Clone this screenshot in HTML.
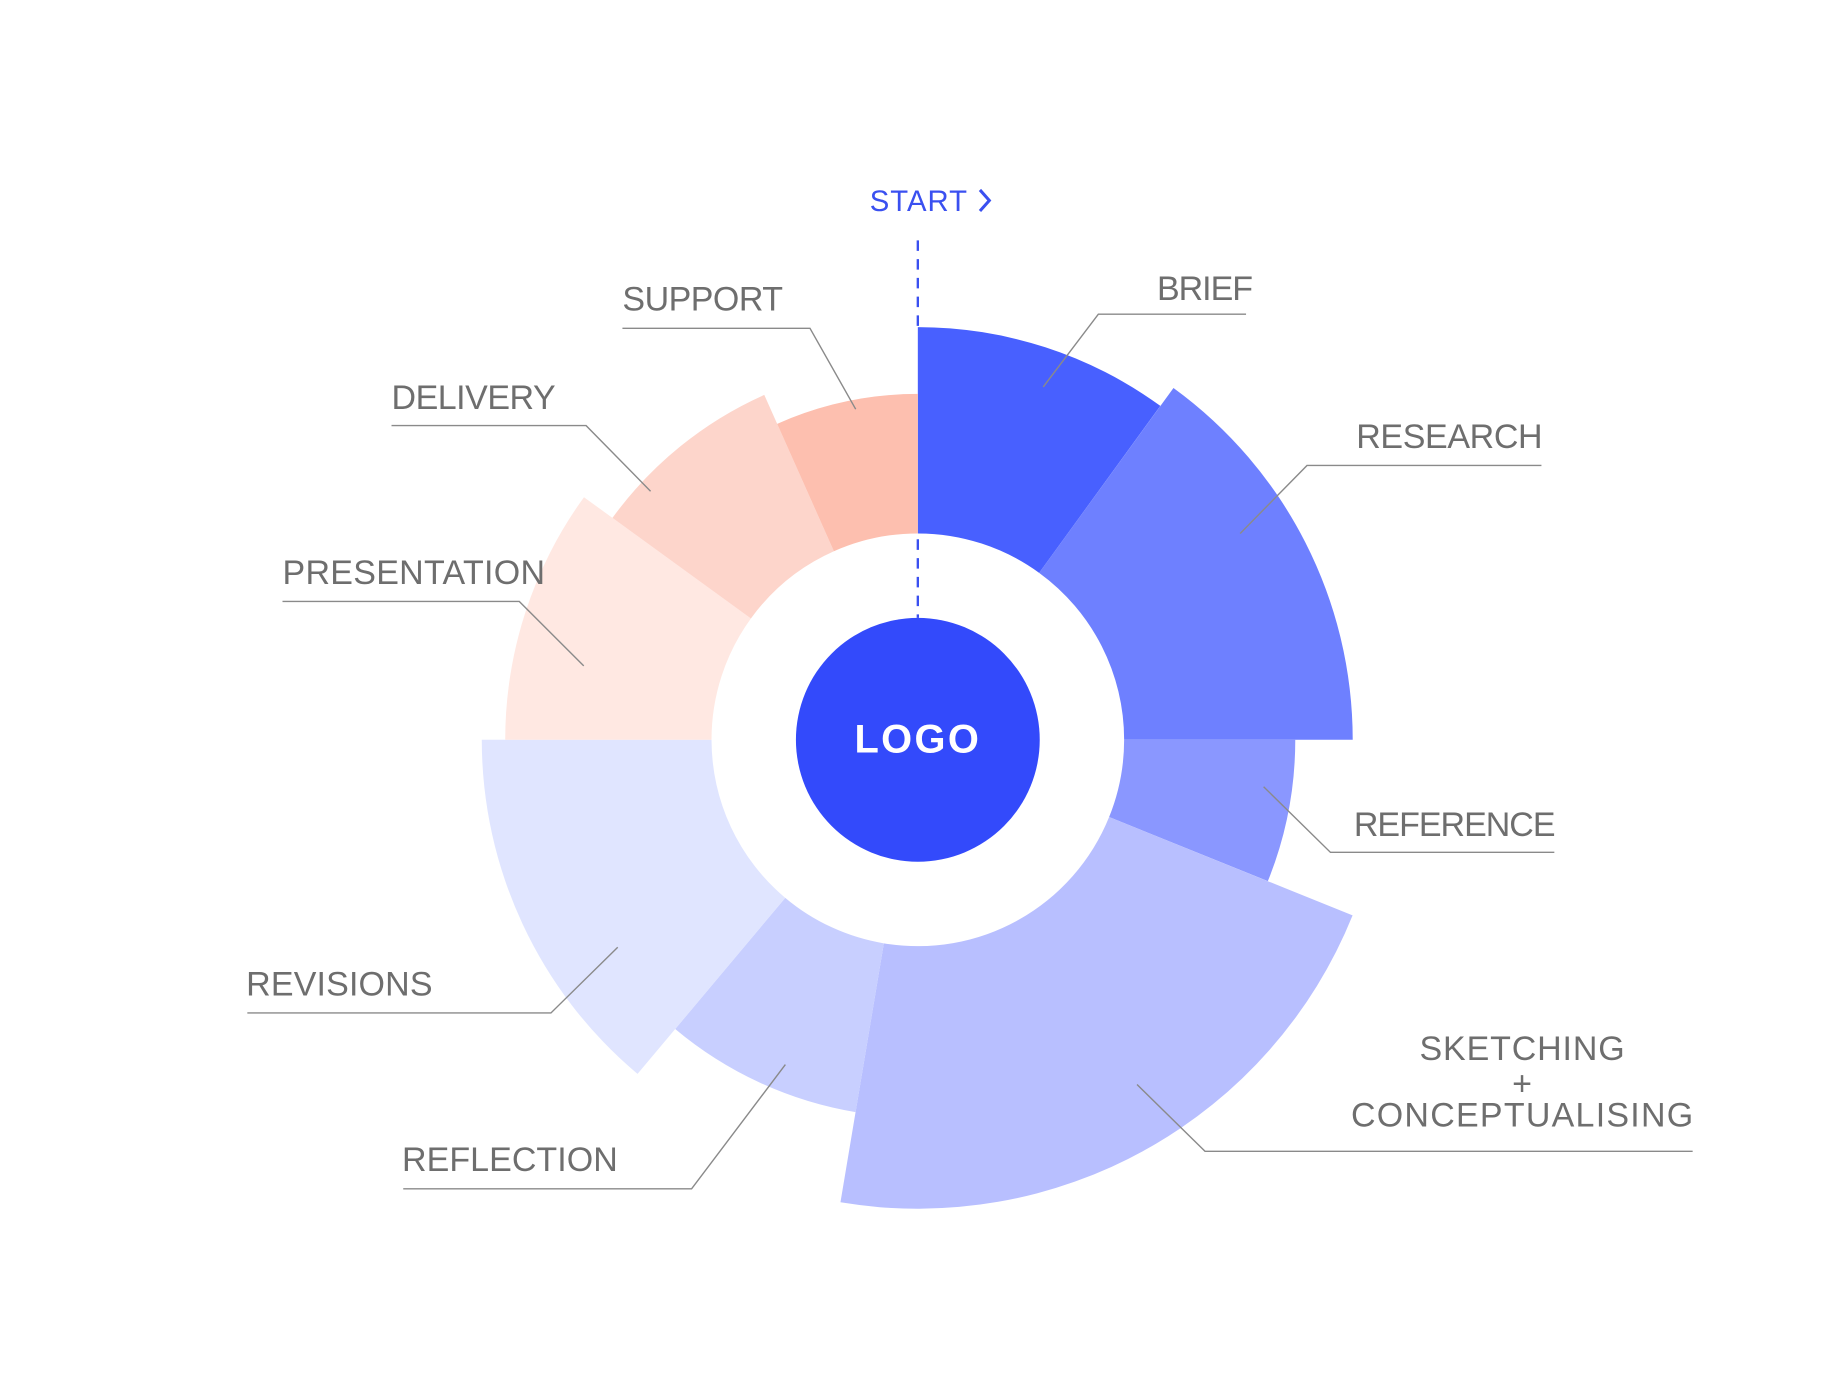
<!DOCTYPE html>
<html><head><meta charset="utf-8"><style>
html,body{margin:0;padding:0;background:#fff;}
svg{display:block;}
text{font-family:"Liberation Sans",sans-serif;}
.l{fill:#6e6e6e;font-size:29px;letter-spacing:1px;}
.k{stroke:#8a8a8a;stroke-width:1.2;fill:none;}
</style></head><body>
<svg width="1838" height="1394" viewBox="0 0 1568 1189" preserveAspectRatio="none" xmlns="http://www.w3.org/2000/svg">
<rect width="1568" height="1189" fill="#fff"/>
<path fill="#4860FF" d="M783,279 A352,352 0 0 1 989.9,346.2 L886.5,488.6 A176,176 0 0 0 783,455 Z"/>
<path fill="#6E80FF" d="M1001.1,330.9 A371,371 0 0 1 1154,631 L959,631 A176,176 0 0 0 886.5,488.6 Z"/>
<path fill="#8A97FF" d="M1105,631 A322,322 0 0 1 1081.6,751.6 L946.2,696.9 A176,176 0 0 0 959,631 Z"/>
<path fill="#B8BFFF" d="M1153.9,780.8 A400,400 0 0 1 717,1025.5 L754,804.6 A176,176 0 0 0 946.2,696.9 Z"/>
<path fill="#C8CFFF" d="M729.9,948.6 A322,322 0 0 1 576,877.7 L669.9,765.8 A176,176 0 0 0 754,804.6 Z"/>
<path fill="#E0E5FF" d="M543.9,916 A372,372 0 0 1 411,631 L607,631 A176,176 0 0 0 669.9,765.8 Z"/>
<path fill="#FFE8E2" d="M431,631 A352,352 0 0 1 498.2,424.1 L640.6,527.5 A176,176 0 0 0 607,631 Z"/>
<path fill="#FDD5CB" d="M522.5,441.7 A322,322 0 0 1 652,336.8 L711.4,470.2 A176,176 0 0 0 640.6,527.5 Z"/>
<path fill="#FDBFAF" d="M663,361.5 A295,295 0 0 1 783,336 L783,455 A176,176 0 0 0 711.4,470.2 Z"/>
<line x1="783" y1="205" x2="783" y2="279" stroke="#3a50f0" stroke-width="2" stroke-dasharray="9,7"/>
<line x1="783" y1="460" x2="783" y2="527" stroke="#3a50f0" stroke-width="2" stroke-dasharray="9,7"/>
<circle cx="783" cy="631" r="104" fill="#334AFB"/>
<text x="783" y="642" text-anchor="middle" fill="#fff" font-size="34" font-weight="bold" letter-spacing="2">LOGO</text>
<text x="742" y="180" fill="#3a50f0" font-size="25" letter-spacing="1" textLength="84">START</text>
<path d="M836,162 L844,171 L836,180" stroke="#3a50f0" stroke-width="2.6" fill="none"/>
<text class="l" x="987" y="256" textLength="83">BRIEF</text>
<path class="k" d="M1063,268 L937,268 L890,330"/>
<text class="l" x="1157" y="382" textLength="160">RESEARCH</text>
<path class="k" d="M1315,397 L1115,397 L1058,455"/>
<text class="l" x="1155" y="713" textLength="173">REFERENCE</text>
<path class="k" d="M1326,727 L1135,727 L1078,671"/>
<text class="l" x="1299" y="904" text-anchor="middle" textLength="176">SKETCHING</text>
<text class="l" x="1299" y="934" text-anchor="middle">+</text>
<text class="l" x="1299" y="961" text-anchor="middle" textLength="293">CONCEPTUALISING</text>
<path class="k" d="M1444,982 L1028,982 L970,925"/>
<text class="l" x="343" y="999" textLength="185">REFLECTION</text>
<path class="k" d="M344,1014 L590,1014 L670,908"/>
<text class="l" x="210" y="849" textLength="160">REVISIONS</text>
<path class="k" d="M211,864 L470,864 L527,808"/>
<text class="l" x="241" y="498" textLength="225">PRESENTATION</text>
<path class="k" d="M241,513 L443,513 L498,568"/>
<text class="l" x="334" y="349" textLength="141">DELIVERY</text>
<path class="k" d="M334,363 L500,363 L555,419"/>
<text class="l" x="531" y="265" textLength="138">SUPPORT</text>
<path class="k" d="M531,280 L691,280 L730,349"/>
</svg>
</body></html>
